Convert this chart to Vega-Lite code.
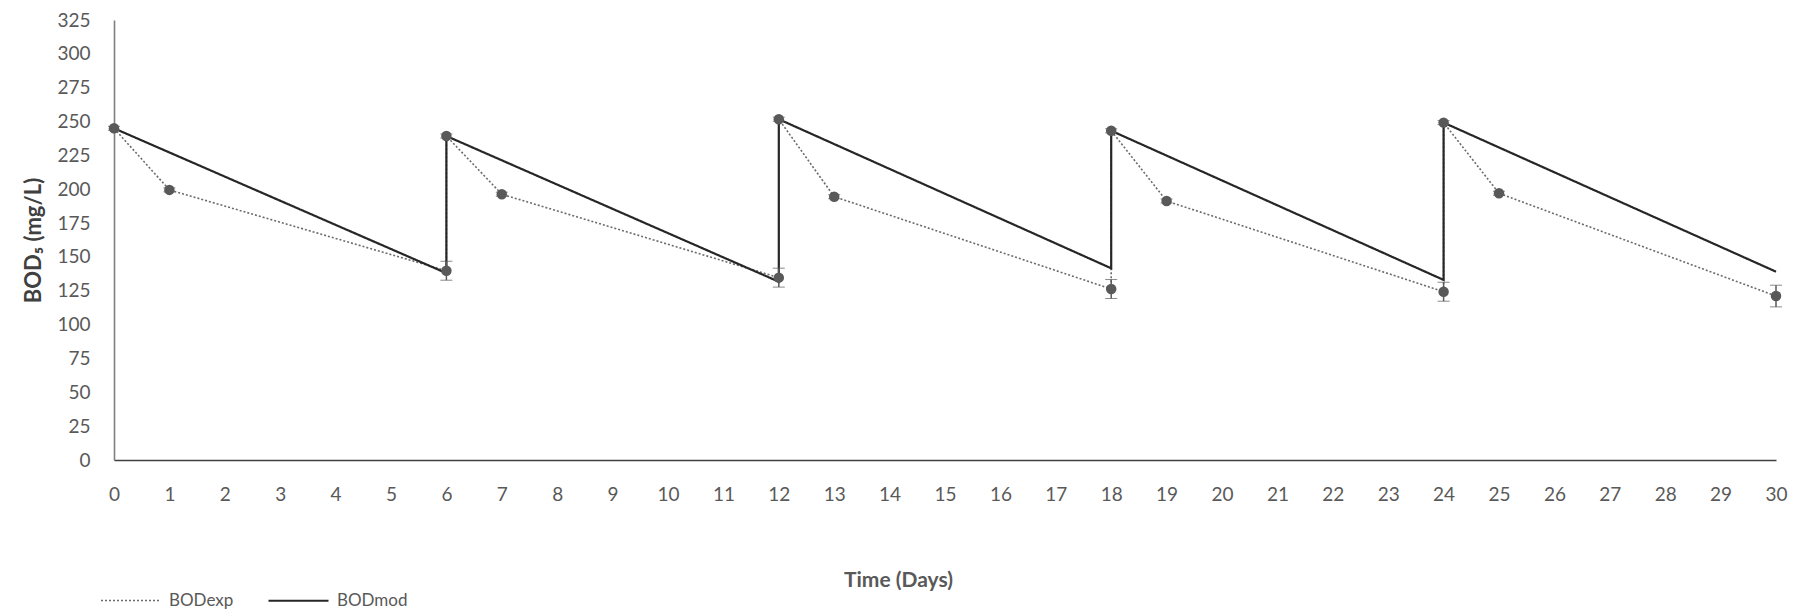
{
  "$schema": "https://vega.github.io/schema/vega-lite/v6.json",
  "autosize": {"type": "none"},
  "padding": {"left": 114, "top": 20, "right": 27, "bottom": 156},
  "width": 1662,
  "height": 440,
  "background": "white",
  "config": {
    "view": {"stroke": null},
    "font": "Lato"
  },
  "data": {
    "values": [
      {"series": "BODexp", "seq": 1, "day": 0, "value": 245, "err": 1.5},
      {"series": "BODexp", "seq": 2, "day": 1, "value": 199.5, "err": 1.5},
      {"series": "BODexp", "seq": 3, "day": 6, "value": 139.8, "err": 7},
      {"series": "BODexp", "seq": 4, "day": 6, "value": 239.3, "err": 1.5},
      {"series": "BODexp", "seq": 5, "day": 7, "value": 196.3, "err": 1.5},
      {"series": "BODexp", "seq": 6, "day": 12, "value": 134.7, "err": 7},
      {"series": "BODexp", "seq": 7, "day": 12, "value": 251.7, "err": 1.5},
      {"series": "BODexp", "seq": 8, "day": 13, "value": 194.5, "err": 1.5},
      {"series": "BODexp", "seq": 9, "day": 18, "value": 126.3, "err": 7},
      {"series": "BODexp", "seq": 10, "day": 18, "value": 243.2, "err": 1.5},
      {"series": "BODexp", "seq": 11, "day": 19, "value": 191.3, "err": 1.5},
      {"series": "BODexp", "seq": 12, "day": 24, "value": 124.3, "err": 7},
      {"series": "BODexp", "seq": 13, "day": 24, "value": 249.2, "err": 1.5},
      {"series": "BODexp", "seq": 14, "day": 25, "value": 197, "err": 1.5},
      {"series": "BODexp", "seq": 15, "day": 30, "value": 121.1, "err": 8},
      {"series": "BODmod", "seq": 1, "day": 0, "value": 245},
      {"series": "BODmod", "seq": 2, "day": 6, "value": 138},
      {"series": "BODmod", "seq": 3, "day": 6, "value": 239.3},
      {"series": "BODmod", "seq": 4, "day": 12, "value": 131.7},
      {"series": "BODmod", "seq": 5, "day": 12, "value": 251.7},
      {"series": "BODmod", "seq": 6, "day": 18, "value": 141.6},
      {"series": "BODmod", "seq": 7, "day": 18, "value": 243.2},
      {"series": "BODmod", "seq": 8, "day": 24, "value": 133},
      {"series": "BODmod", "seq": 9, "day": 24, "value": 249.2},
      {"series": "BODmod", "seq": 10, "day": 30, "value": 139.1}
    ]
  },
  "encoding": {
    "x": {
      "field": "day", "type": "quantitative",
      "scale": {"domain": [0, 30], "nice": false, "zero": false},
      "axis": {
        "values": [0,1,2,3,4,5,6,7,8,9,10,11,12,13,14,15,16,17,18,19,20,21,22,23,24,25,26,27,28,29,30],
        "title": "Time (Days)",
        "titleFont": "Lato", "titleFontSize": 21, "titleFontWeight": "bold", "titleColor": "#595959",
        "titleX": 784, "titleY": 120, "titleAnchor": null, "titleAlign": "center", "titleBaseline": "middle",
        "grid": false, "ticks": false,
        "domainColor": "#404040", "domainWidth": 1.6,
        "labelFontSize": 19, "labelColor": "#595959", "labelPadding": 25,
        "labelFlush": false, "labelOverlap": false
      }
    },
    "y": {
      "field": "value", "type": "quantitative",
      "scale": {"domain": [0, 325], "nice": false},
      "axis": {
        "values": [0,25,50,75,100,125,150,175,200,225,250,275,300,325],
        "title": "BOD₅ (mg/L)",
        "titleFont": "Lato", "titleFontSize": 22, "titleFontWeight": "bold", "titleColor": "#404040",
        "titlePadding": 11,
        "grid": false, "ticks": false,
        "domainColor": "#7f7f7f", "domainWidth": 1.6,
        "labelFontSize": 19, "labelColor": "#595959", "labelPadding": 24,
        "labelOverlap": false
      }
    }
  },
  "layer": [
    {
      "mark": {"type": "line"},
      "encoding": {
        "order": {"field": "seq", "type": "quantitative"},
        "color": {
          "field": "series", "type": "nominal",
          "scale": {"domain": ["BODexp", "BODmod"], "range": ["#6b6b6b", "#262626"]},
          "legend": {
            "title": null, "orient": "none", "direction": "horizontal",
            "legendX": -14, "legendY": 549,
            "symbolType": "stroke", "symbolSize": 3600, "symbolStrokeWidth": 1.8,
            "labelFontSize": 17, "labelColor": "#595959", "labelOffset": 7,
            "columnPadding": 30
          }
        },
        "strokeDash": {
          "field": "series", "type": "nominal",
          "scale": {"domain": ["BODexp", "BODmod"], "range": [[2, 2], [1, 0]]},
          "legend": {
            "title": null, "orient": "none", "direction": "horizontal",
            "legendX": -14, "legendY": 549,
            "symbolType": "stroke", "symbolSize": 3600, "symbolStrokeWidth": 1.8,
            "labelFontSize": 17, "labelColor": "#595959", "labelOffset": 7,
            "columnPadding": 30
          }
        },
        "strokeWidth": {
          "field": "series", "type": "nominal",
          "scale": {"domain": ["BODexp", "BODmod"], "range": [1.6, 2.2]},
          "legend": null
        }
      }
    },
    {
      "transform": [{"filter": "datum.series === 'BODexp'"}],
      "mark": {"type": "errorbar", "ticks": {"size": 12, "color": "#595959"}, "rule": {"color": "#595959", "strokeWidth": 1.5}},
      "encoding": {
        "yError": {"field": "err"}
      }
    },
    {
      "transform": [{"filter": "datum.series === 'BODexp'"}],
      "mark": {"type": "point", "filled": true, "shape": "circle", "size": 110, "color": "#595959", "opacity": 1}
    }
  ]
}
